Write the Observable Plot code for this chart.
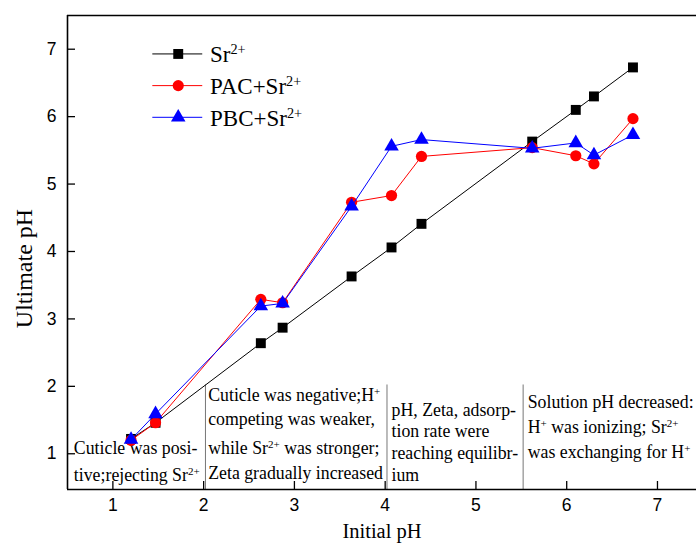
<!DOCTYPE html>
<html>
<head>
<meta charset="utf-8">
<script src="https://cdn.jsdelivr.net/npm/d3@7"></script>
<script src="https://cdn.jsdelivr.net/npm/@observablehq/plot@0.6"></script>
<style>
  html, body { margin: 0; padding: 0; background: #fff; }
</style>
</head>
<body>
<div id="chart"></div>
<script>
// ---- data ----
const initialPH = [1.2, 1.47, 2.63, 2.87, 3.63, 4.07, 4.4, 5.62, 6.1, 6.3, 6.73];
const srOnly   = [1.22, 1.46, 2.64, 2.87, 3.63, 4.06, 4.41, 5.63, 6.10, 6.30, 6.73];
const pacSr    = [1.20, 1.46, 3.29, 3.24, 4.73, 4.83, 5.41, 5.54, 5.42, 5.30, 5.97];
const pbcSr    = [1.21, 1.59, 3.19, 3.23, 4.67, 5.56, 5.66, 5.53, 5.61, 5.43, 5.73];
const seriesNames = ["Sr²⁺", "PAC+Sr²⁺", "PBC+Sr²⁺"];
const seriesColors = ["#000000", "#ff0000", "#0000ff"];
const seriesSymbols = ["square", "circle", "triangle"];
const xTicks = [1, 2, 3, 4, 5, 6, 7];
const yTicks = [1, 2, 3, 4, 5, 6, 7];
const xDomain = [0.5, 7.43];
const yDomain = [0.47, 7.5];

// stage dividers (initial pH) and stage notes
const dividerX = [2.02, 4.02, 5.52];
const dividerTop = 2.02;
const notes = [
  {x: 0.57, y: 1.08, text: "Cuticle was posi-"},
  {x: 0.57, y: 0.68, text: "tive;rejecting Sr²⁺"},
  {x: 2.05, y: 1.87, text: "Cuticle was negative;H⁺"},
  {x: 2.05, y: 1.51, text: "competing was weaker,"},
  {x: 2.05, y: 1.08, text: "while Sr²⁺ was stronger;"},
  {x: 2.05, y: 0.71, text: "Zeta gradually increased"},
  {x: 4.07, y: 1.64, text: "pH, Zeta, adsorp-"},
  {x: 4.07, y: 1.33, text: "tion rate were"},
  {x: 4.07, y: 1.00, text: "reaching equilibr-"},
  {x: 4.07, y: 0.68, text: "ium"},
  {x: 5.57, y: 1.76, text: "Solution pH decreased:"},
  {x: 5.57, y: 1.39, text: "H⁺ was ionizing; Sr²⁺"},
  {x: 5.57, y: 1.02, text: "was exchanging for H⁺"}
];
// legend placement (in data units)
const legendX = [1.44, 1.72, 1.99, 2.07];
const legendY = [6.93, 6.46, 5.99];

// ---- build tables ----
const seriesValues = [srOnly, pacSr, pbcSr];
const rows = seriesNames.flatMap((name, i) =>
  initialPH.map((x, j) => ({series: name, idx: i, x, y: seriesValues[i][j]})));
const legendRows = seriesNames.map((name, i) => ({series: name, idx: i, y: legendY[i]}));

const marks = [];
seriesNames.forEach((name, i) => {
  const d = rows.filter(r => r.idx === i);
  marks.push(Plot.line(d, {x: "x", y: "y", stroke: seriesColors[i], strokeWidth: 1}));
  marks.push(Plot.dot(d, {x: "x", y: "y", symbol: seriesSymbols[i], fill: seriesColors[i],
    stroke: "none", r: i === 2 ? 5.4 : 5.6}));
});

// legend
seriesNames.forEach((name, i) => {
  const lr = [legendRows[i]];
  marks.push(Plot.ruleY(lr, {y: "y", x1: legendX[0], x2: legendX[2], stroke: seriesColors[i], strokeWidth: 1}));
  marks.push(Plot.dot(lr, {x: () => legendX[1], y: "y", symbol: seriesSymbols[i], fill: seriesColors[i],
    stroke: "none", r: i === 2 ? 5.4 : 5.6}));
  marks.push(Plot.text(lr, {x: () => legendX[3], y: "y", text: "series", textAnchor: "start",
    fontSize: 23, fill: "#000", dy: 1}));
});

const chart = Plot.plot({
  width: 696,
  height: 550,
  marginLeft: 67,
  marginRight: 0,
  marginTop: 15,
  marginBottom: 61,
  style: {fontFamily: "'Liberation Serif', 'Times New Roman', serif", background: "#fff", color: "#000"},
  x: {domain: xDomain},
  y: {domain: yDomain},
  marks: [
    // stage dividers
    Plot.ruleX(dividerX, {x: d => d, y1: yDomain[0], y2: dividerTop, stroke: "#777", strokeWidth: 1}),
    // stage notes
    Plot.text(notes, {x: "x", y: "y", text: "text", textAnchor: "start", fontSize: 17.8, fill: "#000"}),
    ...marks,
    // frame lines
    Plot.ruleX([xDomain[0]], {stroke: "#000", strokeWidth: 1.6}),
    Plot.ruleY([yDomain[0]], {stroke: "#000", strokeWidth: 1.6}),
    Plot.ruleY([yDomain[1]], {stroke: "#000", strokeWidth: 1.6}),
    Plot.axisX({ticks: xTicks, tickSize: -8, tickPadding: 17, tickFormat: d => String(d),
      fontFamily: "'Liberation Sans', Arial, sans-serif", fontSize: 17.5, stroke: "#000", strokeWidth: 1.3, label: null}),
    Plot.axisY({ticks: yTicks, tickSize: -8, tickPadding: 19, tickFormat: d => String(d),
      fontFamily: "'Liberation Sans', Arial, sans-serif", fontSize: 17.5, stroke: "#000", strokeWidth: 1.3, label: null}),
    Plot.text(["Initial pH"], {frameAnchor: "bottom", dy: 48, text: d => d, fontSize: 20.5, fill: "#000"}),
    Plot.text(["Ultimate pH"], {frameAnchor: "left", textAnchor: "middle", dx: -43, dy: 16, rotate: -90,
      text: d => d, fontSize: 24, fill: "#000"})
  ]
});

// superscripts: turn ² and ⁺ into raised tspans
const supMap = {"²": "2", "⁺": "+"};
d3.select(chart).selectAll("text").each(function() {
  const el = this;
  const targets = el.querySelector("tspan") ? Array.from(el.querySelectorAll("tspan")) : [el];
  targets.forEach(t => {
    const s = t.textContent;
    if (!/[²⁺]/.test(s)) return;
    t.textContent = "";
    const parts = s.split(/([²⁺]+)/);
    parts.forEach(p => {
      if (!p) return;
      const ts = document.createElementNS("http://www.w3.org/2000/svg", "tspan");
      if (/^[²⁺]+$/.test(p)) {
        ts.textContent = p.split("").map(c => supMap[c]).join("");
        ts.setAttribute("baseline-shift", "55%");
        ts.setAttribute("font-size", "62%");
      } else {
        ts.textContent = p;
      }
      t.appendChild(ts);
    });
  });
});

document.getElementById("chart").appendChild(chart);
</script>
</body>
</html>
